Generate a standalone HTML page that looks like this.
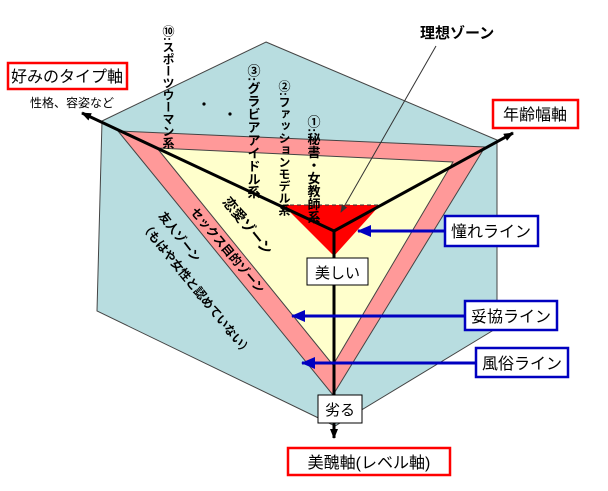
<!DOCTYPE html>
<html><head><meta charset="utf-8"><style>
body{margin:0;background:#fff;}
svg{display:block;font-family:"Liberation Sans","Noto Sans CJK JP",sans-serif;}
</style></head><body>
<svg width="608" height="491" viewBox="0 0 608 491" xmlns="http://www.w3.org/2000/svg">
<defs>
<marker id="ab" markerWidth="10" markerHeight="8" refX="9" refY="4" orient="auto" markerUnits="userSpaceOnUse"><path d="M0,0 L10,4 L0,8 z" fill="#000"/></marker>
<marker id="abs" markerWidth="8" markerHeight="6" refX="7" refY="3" orient="auto" markerUnits="userSpaceOnUse"><path d="M0,0 L8,3 L0,6 z" fill="#333"/></marker>
<marker id="bb" markerWidth="14" markerHeight="12" refX="13" refY="6" orient="auto" markerUnits="userSpaceOnUse"><path d="M0,0 L14,6 L0,12 z" fill="#0000c0"/></marker>
</defs>
<polygon points="266,42 497,140 497,328 335,426 97,311 102,121" fill="#b8dde0" stroke="#444" stroke-width="1"/>
<polygon points="118,131 485,147 333,395" fill="#ff9999" stroke="#444" stroke-width="1"/>
<polygon points="157,148 453,162 333,365" fill="#ffffcc" stroke="#444" stroke-width="1"/>
<polygon points="283,205 380,205 334,256" fill="#ff0000"/>
<line x1="283" y1="205" x2="380" y2="205" stroke="#333" stroke-dasharray="4,3"/>
<line x1="334" y1="231" x2="82" y2="113" stroke="#000" stroke-width="3" marker-end="url(#ab)"/>
<line x1="334" y1="231" x2="513" y2="133" stroke="#000" stroke-width="3" marker-end="url(#ab)"/>
<line x1="334" y1="231" x2="334" y2="438" stroke="#000" stroke-width="3" marker-end="url(#ab)"/>
<line x1="436" y1="46" x2="341" y2="212" stroke="#333" stroke-width="1" marker-end="url(#abs)"/>
<text x="420" y="38" font-size="15" font-weight="bold">理想ゾーン</text>
<circle cx="204" cy="104" r="1.6" fill="#000"/><circle cx="230" cy="114" r="1.6" fill="#000"/>
<g font-size="12" font-weight="bold" style="writing-mode:vertical-rl">
<text x="168" y="25">⑩:スポーツウーマン系</text>
<text x="253" y="64" font-size="13">③:グラビアアイドル系</text>
<text x="284" y="80">②:ファッションモデル系</text>
<text x="313" y="115" font-size="13">①:秘書・女教師系</text>
</g>
<text transform="translate(222,202) rotate(51)" font-size="14" font-weight="bold">恋愛ゾーン</text>
<text transform="translate(190,212) rotate(50)" font-size="12" font-weight="bold">セックス目的ゾーン</text>
<text transform="translate(158,216) rotate(52)" font-size="12" font-weight="bold">友人ゾーン</text>
<text transform="translate(140,226) rotate(51)" font-size="12" font-weight="bold">（もはや女性と認めていない）</text>
<rect x="307" y="258" width="61" height="27" fill="#fff" stroke="#000"/>
<text x="337.5" y="278" font-size="15" text-anchor="middle">美しい</text>
<rect x="318" y="395" width="44" height="28" fill="#fff" stroke="#000"/>
<text x="340" y="415" font-size="15" text-anchor="middle">劣る</text>
<g stroke="#0000c0" stroke-width="3">
<line x1="444" y1="231" x2="358" y2="231" marker-end="url(#bb)"/>
<line x1="464" y1="316" x2="292" y2="316" marker-end="url(#bb)"/>
<line x1="475" y1="363" x2="302" y2="363" marker-end="url(#bb)"/>
</g>
<g fill="#fff" stroke="#0000c0" stroke-width="2.5">
<rect x="445" y="216" width="93" height="30"/>
<rect x="465" y="301" width="92" height="29"/>
<rect x="476" y="348" width="92" height="29"/>
</g>
<g font-size="16" text-anchor="middle">
<text x="491" y="237">憧れライン</text>
<text x="511" y="322">妥協ライン</text>
<text x="522" y="369">風俗ライン</text>
</g>
<g fill="#fff" stroke="#ff0000" stroke-width="2.5">
<rect x="8" y="63" width="119" height="26"/>
<rect x="493" y="100" width="85" height="28"/>
<rect x="288" y="448" width="162" height="27"/>
</g>
<g font-size="16" text-anchor="middle">
<text x="67" y="82">好みのタイプ軸</text>
<text x="535" y="120">年齢幅軸</text>
<text x="369" y="468">美醜軸(レベル軸)</text>
</g>
<text x="30" y="107" font-size="12">性格、容姿など</text>
</svg>
</body></html>
